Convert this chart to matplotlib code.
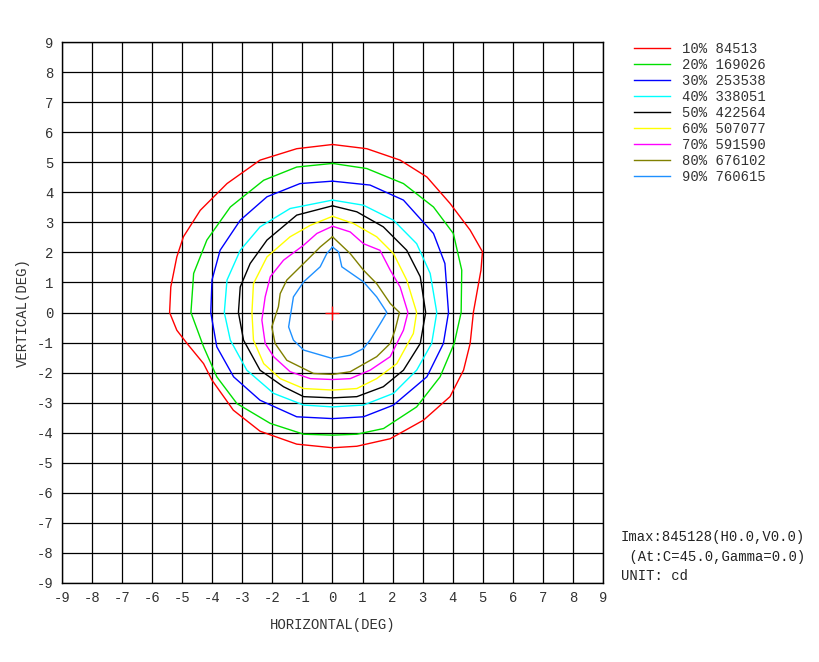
import matplotlib
matplotlib.use("Agg")
import matplotlib.pyplot as plt
import numpy as np

plt.rcParams['font.family'] = ['Liberation Mono', 'DejaVu Sans Mono']
plt.rcParams['axes.unicode_minus'] = False

levels_pct = ["10%", "20%", "30%", "40%", "50%", "60%", "70%", "80%", "90%"]
levels_val = [84513, 169026, 253538, 338051, 422564, 507077, 591590, 676102, 760615]
colors = ["#ff0000", "#00e000", "#0000ff", "#00ffff", "#000000", "#ffff00", "#ff00ff", "#808000", "#1e90ff"]

c10 = [(0, 5.59), (1.14, 5.45), (2.25, 5.07), (3.14, 4.51), (3.91, 3.63), (4.58, 2.74), (4.99, 2.02),
       (4.94, 1.41), (4.69, 0.02), (4.58, -1.03), (4.36, -1.92), (3.91, -2.80), (3.03, -3.58),
       (1.92, -4.20), (0.81, -4.45), (0, -4.50), (-1.19, -4.38), (-2.41, -3.95), (-3.30, -3.25),
       (-4.01, -2.25), (-4.29, -1.70), (-4.84, -1.03), (-5.18, -0.59), (-5.42, 0), (-5.38, 0.85),
       (-5.18, 1.85), (-4.96, 2.52), (-4.40, 3.40), (-3.51, 4.29), (-2.41, 5.07), (-1.19, 5.45)]
c20 = [(0, 4.96), (1.14, 4.79), (2.36, 4.29), (3.36, 3.51), (4.02, 2.63), (4.30, 1.41), (4.28, 0),
       (4.05, -1.03), (3.58, -2.14), (2.80, -3.14), (1.70, -3.86), (0.81, -4.05), (0, -4.08),
       (-0.96, -4.05), (-2.07, -3.69), (-3.18, -3.03), (-3.85, -2.14), (-4.29, -1.14), (-4.71, 0),
       (-4.62, 1.30), (-4.18, 2.41), (-3.40, 3.51), (-2.29, 4.40), (-1.19, 4.84)]
c30 = [(0, 4.37), (1.25, 4.24), (2.36, 3.74), (3.36, 2.63), (3.74, 1.63), (3.86, 0), (3.69, -1.03),
       (3.14, -2.14), (2.03, -3.08), (1.03, -3.47), (0, -3.53), (-1.19, -3.47), (-2.41, -2.92),
       (-3.29, -2.14), (-3.85, -1.14), (-4.05, 0), (-4.01, 1.08), (-3.74, 2.07), (-3.07, 3.07),
       (-2.18, 3.85), (-1.08, 4.29)]
c40 = [(0, 3.74), (1.03, 3.57), (2.03, 3.07), (2.80, 2.29), (3.25, 1.30), (3.47, 0), (3.30, -1.03),
       (2.80, -1.92), (2.03, -2.69), (1.03, -3.08), (0, -3.14), (-0.96, -3.08), (-1.96, -2.69),
       (-2.85, -1.92), (-3.40, -0.92), (-3.60, 0), (-3.51, 1.08), (-3.07, 2.07), (-2.41, 2.85),
       (-1.41, 3.46)]
c50 = [(0, 3.55), (0.81, 3.35), (1.69, 2.85), (2.47, 2.07), (2.92, 1.19), (3.10, 0), (2.92, -1.03),
       (2.36, -1.92), (1.69, -2.47), (0.81, -2.80), (0, -2.84), (-0.96, -2.80), (-1.63, -2.47),
       (-2.41, -1.92), (-2.96, -0.92), (-3.13, 0), (-3.07, 0.85), (-2.74, 1.63), (-2.18, 2.41),
       (-1.19, 3.24)]
c60 = [(0, 3.20), (0.70, 2.96), (1.47, 2.52), (2.03, 1.96), (2.47, 1.08), (2.80, 0), (2.69, -0.70),
       (2.14, -1.70), (1.47, -2.20), (0.81, -2.53), (0, -2.58), (-0.96, -2.53), (-1.74, -2.20),
       (-2.29, -1.70), (-2.63, -0.92), (-2.68, 0), (-2.63, 0.96), (-2.18, 1.85), (-1.41, 2.52),
       (-0.74, 2.90)]
c70 = [(0, 2.87), (0.59, 2.68), (1.03, 2.29), (1.58, 2.07), (1.92, 1.41), (2.25, 0.85), (2.51, 0),
       (2.36, -0.59), (1.92, -1.47), (1.25, -1.92), (0.59, -2.20), (0, -2.23), (-0.74, -2.20),
       (-1.41, -1.97), (-1.96, -1.47), (-2.24, -1.03), (-2.35, -0.25), (-2.24, 0.52), (-2.07, 1.19),
       (-1.63, 1.74), (-0.96, 2.24), (-0.52, 2.63)]
c80 = [(0, 2.52), (0.59, 1.96), (1.03, 1.41), (1.47, 0.96), (1.92, 0.30), (2.23, 0), (2.08, -0.59),
       (1.92, -1.03), (1.47, -1.47), (0.59, -1.97), (0, -2.06), (-0.63, -2.03), (-1.52, -1.59),
       (-1.91, -1.03), (-2.02, -0.48), (-1.80, 0.19), (-1.74, 0.63), (-1.52, 1.08), (-0.85, 1.74),
       (-0.41, 2.18)]
c90 = [(0, 2.18), (0.20, 2.02), (0.31, 1.52), (1.03, 1.02), (1.47, 0.52), (1.81, 0), (1.59, -0.37),
       (1.25, -0.92), (1.03, -1.20), (0.59, -1.42), (0, -1.53), (-0.96, -1.25), (-1.30, -0.92),
       (-1.46, -0.48), (-1.30, 0.52), (-0.96, 1.02), (-0.41, 1.52), (-0.19, 1.96)]
contours = [c10, c20, c30, c40, c50, c60, c70, c80, c90]

ticks = list(range(-9, 10))
imax_lines = ["Imax:845128(H0.0,V0.0)", " (At:C=45.0,Gamma=0.0)", "UNIT: cd"]

fig = plt.figure(figsize=(8.2, 6.62), dpi=100)
ax = fig.add_axes([62/820, 1-583/662, (603-62)/820, (583-42)/662])
ax.set_xlim(-9, 9)
ax.set_ylim(-9, 9)
ax.set_xticks(ticks)
ax.set_yticks(ticks)
ax.set_xticklabels([str(t) for t in ticks])
ax.set_yticklabels([str(t) for t in ticks])
ax.grid(True, color='black', linewidth=0.9)
ax.tick_params(length=0, labelsize=10, colors='#333333', pad=6)
for s in ax.spines.values():
    s.set_linewidth(1.0)
    s.set_color('black')

handles = []
for pts, col, p, v in zip(contours, colors, levels_pct, levels_val):
    arr = np.array(pts + [pts[0]])
    h, = ax.plot(arr[:, 0], arr[:, 1], color=col, linewidth=1.0, label=f"{p} {v}")
    handles.append(h)

ax.plot([0], [0], marker='+', color='red', markersize=10, markeredgewidth=1)

ax.set_xlabel("HORIZONTAL(DEG)", fontsize=10, labelpad=9, color='#333333')
ax.set_ylabel("VERTICAL(DEG)", fontsize=10, labelpad=5, color='#333333')

fig.legend(handles=handles, loc='upper left', bbox_to_anchor=(634/820, 1-42/662),
           frameon=False, fontsize=10, handlelength=2.6, handletextpad=0.85,
           labelspacing=0.14, borderpad=0, borderaxespad=0, labelcolor='#333333')

for i, line in enumerate(imax_lines):
    fig.text(621/820, 1-(537+19.5*i)/662, line, fontsize=10, va='center', ha='left', color='#222222')

fig.savefig("out.png", dpi=100)
